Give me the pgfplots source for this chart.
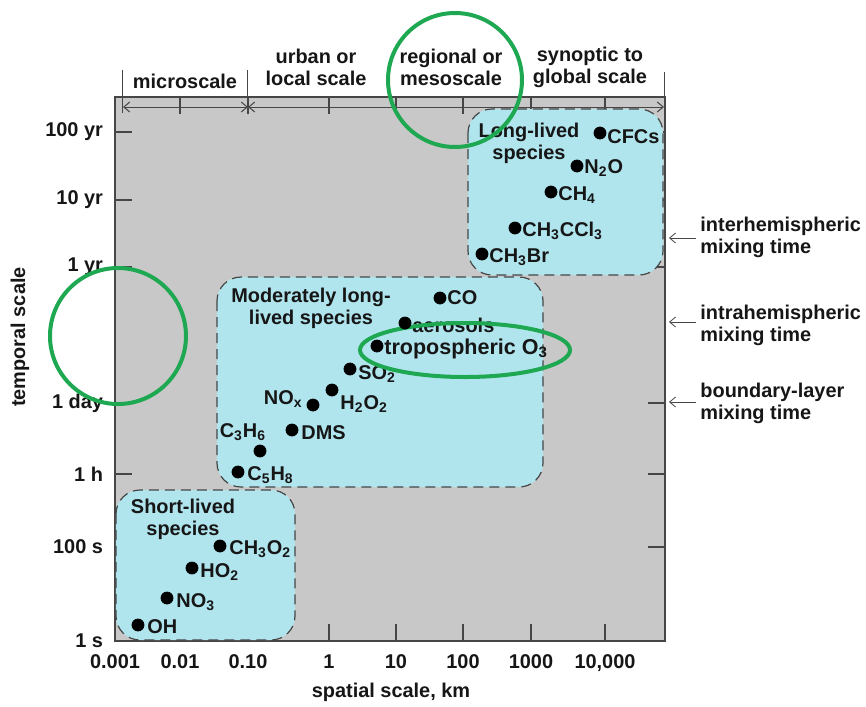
\documentclass[border=0pt]{standalone}
\usepackage{fontspec}
\setmainfont{Liberation Sans}
\usepackage{pgfplots}
\usepackage{pgfplotstable}
\pgfplotsset{compat=1.18}
\usetikzlibrary{arrows.meta}

\definecolor{bggray}{RGB}{200,200,200}
\definecolor{boxblue}{RGB}{176,229,238}
\definecolor{circgreen}{RGB}{30,168,82}
\definecolor{txt}{RGB}{22,22,22}
\definecolor{linegray}{RGB}{70,70,70}

% pixel-like coordinates: x = spatial position, y = temporal position (reversed)
\pgfplotstableread{
x y
600 133
577 166
551 192
515 228
482 254
}\longlived
\pgfplotstableread{
x y
440 298
405 323
377 346
350 369
332 390
313 405
292 430
260 451
238 472
}\moderate
\pgfplotstableread{
x y
220 546
192 568
167 598
138 625
}\shortlived

\tikzset{lbl/.style={font=\fontsize{10}{11}\selectfont\bfseries, text=txt, inner sep=0pt}}

\begin{document}
\begin{tikzpicture}
\begin{axis}[
  scale only axis, width=275bp, height=272bp,
  xmin=115, xmax=665, ymin=97, ymax=641, y dir=reverse,
  axis background/.style={fill=bggray},
  axis line style={linegray, line width=0.6bp},
  clip=false,
  tick align=inside, major tick length=8.5bp,
  every tick/.style={linegray, line width=0.6bp},
  xtick={115,180,248,329,396,463,531,605},
  xticklabels={0.001,0.01,0.10,1,10,100,1000,{10,000}},
  ytick={132,200,267,403,474,547,641},
  yticklabels={100 yr,10 yr,1 yr,1 day,1 h,100 s,1 s},
  tick label style={font=\fontsize{10}{11}\selectfont\bfseries, text=txt},
  xticklabel style={yshift=-3.5bp},
  yticklabel style={xshift=-2.5bp},
]
% bounding box of the whole figure
\path (axis cs:0,0) rectangle (axis cs:866,706);

% species boxes
\draw[fill=boxblue, draw=linegray, line width=0.6bp, dash pattern=on 5bp off 3bp, rounded corners=12bp]
  (axis cs:468,109) rectangle (axis cs:663,275);
\draw[fill=boxblue, draw=linegray, line width=0.6bp, dash pattern=on 5bp off 3bp, rounded corners=12bp]
  (axis cs:217,277) rectangle (axis cs:543,487);
\draw[fill=boxblue, draw=linegray, line width=0.6bp, dash pattern=on 5bp off 3bp, rounded corners=12bp]
  (axis cs:116,490) rectangle (axis cs:295,640);

% scale bar
\draw[linegray, line width=0.5bp, {Straight Barb[length=3bp,width=5bp]}-{Straight Barb[length=3bp,width=5bp]}]
  (axis cs:123,107) -- (axis cs:248,107);
\draw[linegray, line width=0.5bp, {Straight Barb[length=3bp,width=5bp]}-{Straight Barb[length=3bp,width=5bp]}]
  (axis cs:248,107) -- (axis cs:664,107);
\draw[linegray, line width=0.5bp] (axis cs:123,70) -- (axis cs:123,113);
\draw[linegray, line width=0.5bp] (axis cs:248,70) -- (axis cs:248,113);
\draw[linegray, line width=0.5bp] (axis cs:664,72) -- (axis cs:664,110);

% data points
\addplot[only marks, mark=*, mark size=3bp, black] table {\longlived};
\addplot[only marks, mark=*, mark size=3bp, black] table {\moderate};
\addplot[only marks, mark=*, mark size=3bp, black] table {\shortlived};

% box titles
\node[lbl, align=center] at (axis cs:529,143) {Long-lived\\species};
\node[lbl, align=center] at (axis cs:311,308) {Moderately long-\\lived species};
\node[lbl, align=center] at (axis cs:183,519) {Short-lived\\species};

% species labels
\node[lbl, anchor=west] at (axis cs:607,137) {CFCs};
\node[lbl, anchor=west] at (axis cs:584,168) {N\textsubscript{2}O};
\node[lbl, anchor=west] at (axis cs:558,195) {CH\textsubscript{4}};
\node[lbl, anchor=west] at (axis cs:522,231) {CH\textsubscript{3}CCl\textsubscript{3}};
\node[lbl, anchor=west] at (axis cs:489,257) {CH\textsubscript{3}Br};
\node[lbl, anchor=west] at (axis cs:447,298) {CO};
\node[lbl, anchor=west] at (axis cs:412,325) {aerosols};
\node[lbl, anchor=west, font=\fontsize{10.8}{11}\selectfont\bfseries] at (axis cs:384,349) {tropospheric O\textsubscript{3}};
\node[lbl, anchor=west] at (axis cs:358,374) {SO\textsubscript{2}};
\node[lbl, anchor=west] at (axis cs:340,404) {H\textsubscript{2}O\textsubscript{2}};
\node[lbl, anchor=east] at (axis cs:303,399) {NO\textsubscript{x}};
\node[lbl, anchor=west] at (axis cs:301,433) {DMS};
\node[lbl, anchor=center] at (axis cs:243,432) {C\textsubscript{3}H\textsubscript{6}};
\node[lbl, anchor=west] at (axis cs:247,475) {C\textsubscript{5}H\textsubscript{8}};
\node[lbl, anchor=west] at (axis cs:229,549) {CH\textsubscript{3}O\textsubscript{2}};
\node[lbl, anchor=west] at (axis cs:200,572) {HO\textsubscript{2}};
\node[lbl, anchor=west] at (axis cs:176,602) {NO\textsubscript{3}};
\node[lbl, anchor=west] at (axis cs:147,627) {OH};

% scale labels on top
\node[lbl] at (axis cs:185,81) {microscale};
\node[lbl, align=center] at (axis cs:316,67) {urban or\\local scale};
\node[lbl, align=center] at (axis cs:451,67) {regional or\\mesoscale};
\node[lbl, align=center] at (axis cs:590,67) {synoptic to\\global scale};

% mixing time annotations
\draw[linegray, line width=0.4bp, -{Straight Barb[length=3bp,width=5bp]}] (axis cs:696,238) -- (axis cs:669,238);
\draw[linegray, line width=0.4bp, -{Straight Barb[length=3bp,width=5bp]}] (axis cs:696,322) -- (axis cs:669,322);
\draw[linegray, line width=0.4bp, -{Straight Barb[length=3bp,width=5bp]}] (axis cs:696,402) -- (axis cs:669,402);
\node[lbl, anchor=west, align=left] at (axis cs:700,237) {interhemispheric\\mixing time};
\node[lbl, anchor=west, align=left] at (axis cs:700,325) {intrahemispheric\\mixing time};
\node[lbl, anchor=west, align=left] at (axis cs:700,403) {boundary-layer\\mixing time};

% axis titles
\node[lbl, rotate=90] at (axis cs:20,337) {temporal scale};
\node[lbl] at (axis cs:391,692) {spatial scale, km};

% green highlight circles
\draw[circgreen, line width=2bp] (axis cs:455,80) circle[radius=33.5bp];
\draw[circgreen, line width=2bp] (axis cs:118,336) circle[radius=34bp];
\draw[circgreen, line width=2bp] (axis cs:465,350) ellipse[x radius=52.5bp, y radius=13.5bp];
\end{axis}
\end{tikzpicture}
\end{document}
